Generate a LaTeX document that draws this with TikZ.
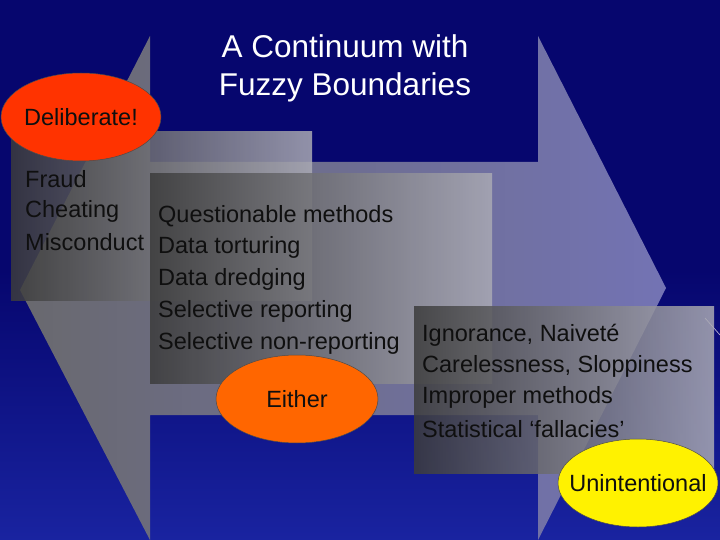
\documentclass[tikz,border=0pt]{standalone}
\usepackage{fontspec}
\setmainfont{Liberation Sans}
\definecolor{bgdark}{RGB}{6,6,110}
\definecolor{bglight}{RGB}{25,35,160}
\definecolor{arrowl}{RGB}{105,105,110}
\definecolor{arrowr}{RGB}{115,115,180}
\definecolor{boxd}{RGB}{60,60,60}
\definecolor{boxl}{RGB}{170,170,180}
\definecolor{txt}{RGB}{15,15,15}
\tikzset{
  gbox/.style={left color=boxd, right color=boxl, fill opacity=0.85, draw=none},
  ell/.style={ellipse, draw=black!70, line width=0.5pt},
  item/.style={anchor=west, text=txt, font=\fontsize{23.5}{23.5}\selectfont, inner sep=0pt},
  eltext/.style={font=\fontsize{23.5}{23.5}\selectfont, text=txt}
}
\usetikzlibrary{shapes.geometric}
\begin{document}
\begin{tikzpicture}[x=1pt,y=-1pt]
\useasboundingbox (0,0) rectangle (720,540);
\shade[top color=bgdark, bottom color=bglight, middle color=bgdark] (0,0) rectangle (720,540);
\draw[white!80!pink, line width=0.6pt, opacity=0.8] (705,318) -- (720,335);
% big chevron arrow
\shade[left color=arrowl, right color=arrowr]
  (150,36) -- (150,162) -- (538,162) -- (538,36) -- (666,288) -- (538,540)
  -- (538,415) -- (150,415) -- (150,540) -- (20,290) -- cycle;
% boxes
\shade[gbox] (11,132) rectangle (312,300);
\shade[gbox] (150,174) rectangle (492,383);
\shade[gbox] (414,306) rectangle (714,473);
% title
\node[text=white, align=center, font=\fontsize{31.5}{38}\selectfont] (title) at (345,68) {A Continuum with\\Fuzzy Boundaries};
% ellipses
\node[ell, fill={rgb,255:red,255;green,51;blue,0}, minimum width=160pt, minimum height=88pt] (delib) at (81,117) {};
\node[eltext] at (delib.center) {Deliberate!};
\node[ell, fill={rgb,255:red,255;green,102;blue,0}, minimum width=162pt, minimum height=88pt] (either) at (297,399) {};
\node[eltext] at (either.center) {Either};
\node[ell, fill=yellow, minimum width=160pt, minimum height=88pt] (unint) at (638,483) {};
\node[eltext] at (unint.center) {Unintentional};
% lists
\node[item] (f1) at (25,179) {Fraud};
\node[item] (f2) at (25,211) {Cheating};
\node[item] (f3) at (25,242) {Misconduct};
\node[item] (q1) at (158,216) {Questionable methods};
\node[item] (q2) at (158,247) {Data torturing};
\node[item] (q3) at (158,279) {Data dredging};
\node[item] (q4) at (158,311) {Selective reporting};
\node[item] (q5) at (158,343) {Selective non-reporting};
\node[item] (u1) at (422,335) {Ignorance, Naiveté};
\node[item] (u2) at (422,366) {Carelessness, Sloppiness};
\node[item] (u3) at (422,397) {Improper methods};
\node[item] (u4) at (422,429) {Statistical ‘fallacies’};
\end{tikzpicture}
\end{document}
